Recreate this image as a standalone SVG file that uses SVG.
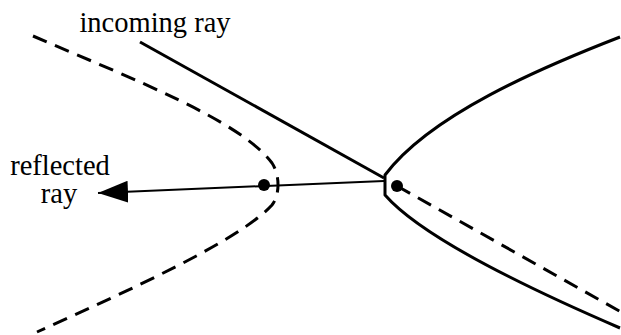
<svg xmlns="http://www.w3.org/2000/svg" width="621" height="335" viewBox="0 0 621 335">
<defs>
<style>
.lbl{font-family:"Liberation Serif","Times New Roman",serif;font-size:28.5px;fill:#000}
.solid{fill:none;stroke:#000;stroke-width:3;stroke-linejoin:round}
.dash{fill:none;stroke:#000;stroke-width:3;stroke-dasharray:15 9}
.thin{fill:none;stroke:#000;stroke-width:2}
</style>
<marker id="arr" markerUnits="userSpaceOnUse" markerWidth="32" markerHeight="24" refX="30" refY="11" orient="auto">
<polygon points="0,0 30,11 0,22" fill="#000"/>
</marker>
</defs>
<rect width="621" height="335" fill="#fff"/>
<g id="mirror-solid">
<path class="solid" d="M620,37 C540,68 430,115 385,175 L385,195 C420,235 520,285 620,328"/>
</g>
<g id="mirror-virtual">
<path class="dash" d="M33,36 C130,78 240,120 272,163 C280,175 280,195 272,205 C240,240 130,290 37,332"/>
</g>
<g id="connectors">
<line class="solid" x1="140" y1="42" x2="384" y2="178"/>
<line class="thin" x1="384" y1="181" x2="98" y2="193" marker-end="url(#arr)"/>
<line class="dash" x1="397" y1="186" x2="621" y2="312"/>
</g>
<g id="focus-left"><circle cx="264" cy="185" r="6" fill="#000"/></g>
<g id="focus-right"><circle cx="397" cy="186" r="6" fill="#000"/></g>
<g id="label-incoming"><text class="lbl" x="155" y="32" text-anchor="middle">incoming ray</text></g>
<g id="label-reflected">
<text class="lbl" x="60" y="175" text-anchor="middle">reflected</text>
<text class="lbl" x="59" y="203" text-anchor="middle">ray</text>
</g>
</svg>
